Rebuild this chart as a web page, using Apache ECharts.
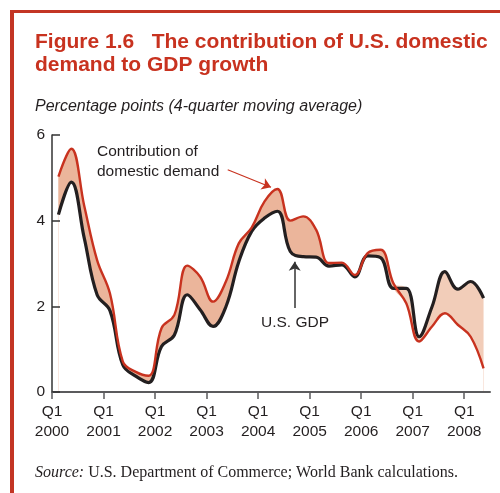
<!DOCTYPE html>
<html>
<head>
<meta charset="utf-8">
<script src="https://cdn.jsdelivr.net/npm/echarts@6/dist/echarts.min.js"></script>
<style>
  html, body { margin: 0; padding: 0; background: #fff; }
  #chart { width: 500px; height: 493px; }
</style>
</head>
<body>
<div id="chart"></div>
<script>
// quarterly values, Q1 2000 .. Q2 2008 (4-quarter moving average, percentage points)
const firstYear = 2000;
const domesticDemand = [5.03, 5.68, 4.35, 3.08, 2.3, 0.71, 0.47, 0.38, 1.49, 1.8,
    2.95, 2.69, 2.11, 2.58, 3.47, 3.84, 4.45, 4.74, 4.0, 4.1,
    3.79, 3.01, 3.02, 2.73, 3.24, 3.32, 2.54, 2.07, 1.18, 1.53,
    1.84, 1.57, 1.29, 0.55];
const usGdp = [4.14, 4.9, 3.6, 2.27, 1.9, 0.63, 0.37, 0.22, 1.06, 1.33,
    2.27, 1.92, 1.53, 1.99, 3.04, 3.75, 4.06, 4.22, 3.28, 3.16,
    3.15, 2.94, 2.97, 2.69, 3.18, 3.14, 2.42, 2.42, 1.29, 1.99,
    2.81, 2.40, 2.58, 2.19];
const yearTicks = [0, 4, 8, 12, 16, 20, 24, 28, 32]; // quarters since Q1 2000
const yTicks = [0, 2, 4, 6];

const RED = '#c8321f';
const BLACK = '#231f20';
const FILL_ABOVE = '#ebb59b';  // demand above GDP
const FILL_BELOW = '#f2cdb9';  // demand below GDP

// points sit in the middle of each quarter
const xOf = i => i + 0.5;
const pairs = arr => arr.map((v, i) => [xOf(i), v]);
const upper = domesticDemand.map((d, i) => [xOf(i), Math.max(d, usGdp[i])]);
const lower = domesticDemand.map((d, i) => [xOf(i), Math.min(d, usGdp[i])]);

const chart = echarts.init(document.getElementById('chart'), null, { renderer: 'canvas' });

function fillSeries(data, color) {
    return {
        type: 'line', data: data, smooth: 0.4,
        showSymbol: false, silent: true,
        lineStyle: { width: 0, opacity: 0 },
        areaStyle: { color: color, opacity: 1, origin: 'start' },
        z: 1
    };
}

const option = {
    animation: false,
    backgroundColor: '#fff',
    grid: { left: 52, right: 10, top: 135, bottom: 101 },
    xAxis: {
        type: 'value',
        min: 0,
        max: 34,
        z: 10,
        splitLine: { show: false },
        axisLine: { show: true, lineStyle: { color: '#5b5b5d', width: 2 } },
        axisTick: {
            show: true, length: 7, inside: false,
            lineStyle: { color: '#5b5b5d', width: 1.5 },
            customValues: yearTicks
        },
        axisLabel: {
            customValues: yearTicks,
            formatter: v => 'Q1\n' + (firstYear + v / 4),
            color: BLACK,
            fontFamily: 'Liberation Sans',
            fontSize: 15.5,
            lineHeight: 20,
            margin: 10
        }
    },
    yAxis: {
        type: 'value',
        min: 0,
        max: 6,
        interval: 2,
        z: 10,
        splitLine: { show: false },
        axisLine: { show: true, lineStyle: { color: '#333', width: 1.5 } },
        axisTick: { show: true, inside: true, length: 8, lineStyle: { color: '#333', width: 1.5 } },
        axisLabel: {
            customValues: yTicks,
            color: BLACK,
            fontFamily: 'Liberation Sans',
            fontSize: 15.5,
            margin: 7
        }
    },
    series: [
        // layered fills: light under the upper curve, dark under demand, white under the lower curve
        fillSeries(upper, FILL_BELOW),
        fillSeries(pairs(domesticDemand), FILL_ABOVE),
        fillSeries(lower, '#ffffff'),
        {
            name: 'U.S. GDP',
            type: 'line', data: pairs(usGdp), smooth: 0.4,
            showSymbol: false,
            lineStyle: { color: BLACK, width: 3.2 },
            z: 3,
            markLine: {
                silent: true,
                symbol: ['none', 'arrow'],
                symbolSize: 9,
                label: { show: false },
                lineStyle: { color: '#333', width: 1.5, type: 'solid' },
                data: [[{ coord: [18.84, 1.96] }, { coord: [18.84, 3.04] }]]
            }
        },
        {
            name: 'Contribution of domestic demand',
            type: 'line', data: pairs(domesticDemand), smooth: 0.4,
            showSymbol: false,
            lineStyle: { color: RED, width: 2.4 },
            z: 4,
            markLine: {
                silent: true,
                symbol: ['none', 'arrow'],
                symbolSize: 9,
                label: { show: false },
                lineStyle: { color: RED, width: 1.2, type: 'solid' },
                data: [[{ coord: [13.64, 5.19] }, { coord: [17.0, 4.78] }]]
            }
        }
    ],
    graphic: [
        // red frame
        { type: 'rect', z: 100, shape: { x: 10, y: 10, width: 4, height: 483 }, style: { fill: '#c33524' }, silent: true },
        { type: 'rect', z: 100, shape: { x: 10, y: 10, width: 490, height: 3 }, style: { fill: '#c33524' }, silent: true },
        {
            type: 'text', z: 100, left: 35, top: 30,
            style: {
                text: 'Figure 1.6   The contribution of U.S. domestic\ndemand to GDP growth',
                fill: '#c8321f', font: 'bold 21px "Liberation Sans"', lineHeight: 23.5
            }
        },
        {
            type: 'text', z: 100, left: 35, top: 98,
            style: {
                text: 'Percentage points (4-quarter moving average)',
                fill: BLACK, font: 'italic 16px "Liberation Sans"', lineHeight: 18
            }
        },
        {
            type: 'text', z: 100, left: 97, top: 142,
            style: {
                text: 'Contribution of\ndomestic demand',
                fill: BLACK, font: '15.5px "Liberation Sans"', lineHeight: 19.5
            }
        },
        {
            type: 'text', z: 100, left: 261, top: 314,
            style: {
                text: 'U.S. GDP',
                fill: BLACK, font: '15.5px "Liberation Sans"', lineHeight: 18
            }
        },
        {
            type: 'text', z: 100, left: 35, top: 463,
            style: {
                text: '{i|Source:} U.S. Department of Commerce; World Bank calculations.',
                fill: BLACK, font: '16px "Liberation Serif"', lineHeight: 20,
                rich: { i: { fontStyle: 'italic', fontFamily: 'Liberation Serif', fontSize: 16 } }
            }
        }
    ]
};

chart.setOption(option);
</script>
</body>
</html>
